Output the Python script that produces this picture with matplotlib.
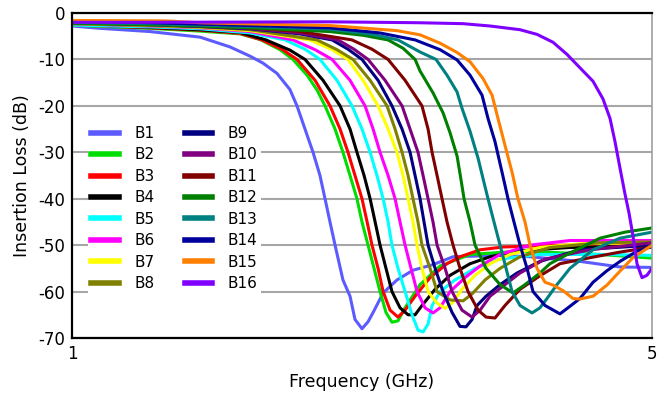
import matplotlib
matplotlib.use("Agg")
import matplotlib.pyplot as plt
from matplotlib.ticker import FixedLocator, NullLocator

# insertion loss curves, frequency in GHz / loss in dB
b1_f = [1.000, 1.081, 1.242, 1.427, 1.550, 1.639, 1.699, 1.766, 1.831, 1.867, 1.909, 1.952, 1.990, 2.018, 2.046,
        2.075, 2.121, 2.163, 2.193, 2.236, 2.274, 2.306, 2.371, 2.464, 2.576, 2.723, 2.879, 3.280, 3.564, 4.094,
        4.575, 5.000]
b1_db = [-2.8, -3.3, -4.0, -5.2, -7.3, -9.3, -10.8, -13, -16.5, -20, -25, -30, -35, -40, -45,
         -50, -57.5, -61, -66, -68, -66.5, -64.5, -60.3, -57.5, -55.4, -54.2, -52.5, -52.2, -52.5, -53.5,
         -54.7, -54.8]

b2_f = [1.000, 1.242, 1.427, 1.594, 1.685, 1.781, 1.846, 1.920, 1.974, 2.018, 2.075, 2.121, 2.163, 2.205, 2.236,
        2.274, 2.312, 2.351, 2.390, 2.430, 2.471, 2.520, 2.627, 2.777, 3.018, 3.467, 4.328, 5.000]
b2_db = [-2.6, -3.3, -3.9, -4.5, -5.7, -7.9, -10, -13.4, -16.6, -20, -25, -30, -35, -40, -45,
         -50, -55, -60, -64.5, -66.6, -66.3, -63.5, -58.5, -54.5, -52, -51.3, -52, -52.8]

b3_f = [1.000, 1.242, 1.427, 1.594, 1.694, 1.791, 1.867, 1.963, 2.046, 2.104, 2.151, 2.193, 2.236, 2.268, 2.299,
        2.338, 2.371, 2.417, 2.471, 2.520, 2.591, 2.701, 2.831, 2.935, 3.103, 3.307, 3.873, 5.000]
b3_db = [-2.5, -3.2, -3.7, -4.4, -5.8, -7.8, -10, -14.5, -20, -25, -30, -35, -40, -45, -50,
         -55, -60, -64, -65.5, -64, -61, -57, -54, -52.5, -51, -50.4, -50, -50]

b4_f = [1.000, 1.242, 1.427, 1.594, 1.713, 1.831, 1.909, 2.007, 2.104, 2.163, 2.205, 2.249, 2.287, 2.319, 2.351,
        2.390, 2.430, 2.485, 2.541, 2.591, 2.641, 2.739, 2.855, 3.018, 3.190, 3.467, 3.982, 5.000]
b4_db = [-2.4, -3.1, -3.6, -4.2, -5.8, -8.0, -10, -14.5, -20, -25, -30, -35, -40, -45, -50,
         -55, -60, -63.5, -65, -65, -63, -59.5, -56.5, -54, -52.5, -51.2, -50.5, -50.2]

b5_f = [1.000, 1.242, 1.427, 1.639, 1.806, 1.909, 1.990, 2.086, 2.175, 2.236, 2.287, 2.331, 2.371, 2.404, 2.430,
        2.471, 2.520, 2.569, 2.612, 2.649, 2.686, 2.716, 2.777, 2.895, 3.060, 3.280, 3.664, 4.328, 5.000]
b5_db = [-2.6, -3.0, -3.4, -4.3, -5.8, -7.8, -10, -14.5, -20, -25, -30, -35, -40, -45, -50,
         -55, -60, -65, -68.3, -68.7, -67, -63, -60, -57.5, -55, -53, -52, -52, -52.2]

b6_f = [1.000, 1.242, 1.427, 1.639, 1.846, 1.963, 2.058, 2.163, 2.255, 2.306, 2.351, 2.404, 2.451, 2.485, 2.520,
        2.562, 2.605, 2.664, 2.723, 2.777, 2.855, 2.976, 3.103, 3.280, 3.564, 3.982, 5.000]
b6_db = [-2.3, -2.8, -3.2, -4.0, -5.8, -7.9, -10, -14.5, -20, -25, -30, -35, -40, -45, -50,
         -55, -60, -63.5, -64.6, -63.5, -60, -57, -54.5, -52, -50, -49, -49]

b7_f = [1.000, 1.242, 1.427, 1.639, 1.936, 2.058, 2.151, 2.243, 2.338, 2.404, 2.464, 2.506, 2.541, 2.576, 2.605,
        2.641, 2.686, 2.754, 2.816, 2.871, 2.951, 3.060, 3.190, 3.372, 3.664, 4.094, 5.000]
b7_db = [-2.2, -2.7, -3.1, -3.8, -5.8, -7.9, -10, -14.5, -20, -25, -30, -35, -40, -45, -50,
         -55, -60, -62.5, -63.6, -62.5, -59.5, -56.5, -54, -52, -50.5, -49.7, -49.5]

b8_f = [1.000, 1.242, 1.427, 1.639, 1.974, 2.086, 2.181, 2.287, 2.397, 2.451, 2.499, 2.541, 2.576, 2.612, 2.641,
        2.701, 2.754, 2.855, 2.960, 3.035, 3.146, 3.280, 3.467, 3.767, 4.328, 5.000]
b8_db = [-2.3, -2.7, -3.0, -3.6, -5.8, -7.9, -10, -14.5, -20, -25, -30, -35, -40, -45, -50,
         -55, -60, -61.8, -62, -60.5, -57.5, -55, -52.5, -50.5, -49.5, -49.3]

b9_f = [1.000, 1.242, 1.427, 1.639, 1.883, 2.058, 2.151, 2.236, 2.338, 2.430, 2.499, 2.555, 2.591, 2.627, 2.656,
        2.686, 2.739, 2.800, 2.871, 2.935, 2.984, 3.035, 3.077, 3.155, 3.280, 3.438, 3.664, 4.094, 5.000]
b9_db = [-2.1, -2.5, -2.9, -3.4, -4.5, -5.8, -7.8, -10, -14.5, -20, -25, -30, -35, -40, -45,
         -50, -55, -60, -64.5, -67.5, -67.6, -66, -63, -61, -58.5, -56, -53.5, -51, -50]

b10_f = [1.000, 1.242, 1.427, 1.639, 1.883, 2.092, 2.187, 2.274, 2.384, 2.499, 2.555, 2.612, 2.649, 2.686, 2.723,
         2.754, 2.816, 2.871, 2.951, 3.035, 3.103, 3.190, 3.325, 3.467, 3.716, 4.210, 5.000]
b10_db = [-2.0, -2.4, -2.8, -3.3, -4.3, -5.8, -7.8, -10, -14.5, -20, -25, -30, -35, -40, -45,
          -50, -55, -60, -64, -65.5, -64, -61, -58.5, -56, -53, -51, -49.5]

b11_f = [1.000, 1.242, 1.427, 1.639, 1.883, 2.175, 2.299, 2.404, 2.520, 2.641, 2.686, 2.716, 2.754, 2.792, 2.831,
         2.879, 2.935, 3.001, 3.086, 3.155, 3.234, 3.325, 3.467, 3.664, 3.873, 4.210, 4.575, 5.000]
b11_db = [-2.0, -2.4, -2.7, -3.2, -4.0, -5.8, -7.8, -10, -14.5, -20, -25, -30, -35, -40, -45,
          -50, -55, -60, -64, -65.5, -65.7, -63, -59.5, -56.6, -54, -52.7, -51.5, -50.4]

b12_f = [1.000, 1.242, 1.427, 1.639, 2.046, 2.243, 2.404, 2.506, 2.591, 2.627, 2.723, 2.800, 2.855, 2.911, 2.943,
         2.968, 3.018, 3.060, 3.155, 3.280, 3.400, 3.515, 3.664, 3.767, 3.982, 4.328, 4.639, 5.000]
b12_db = [-2.2, -2.5, -2.8, -3.2, -4.0, -4.8, -5.8, -7.6, -10, -12.5, -17.2, -21.5, -25.8, -30.8, -35.9,
          -40, -45, -50, -55, -58.5, -60.3, -58.5, -56, -54, -51.7, -48.5, -47.2, -46.3]

b13_f = [1.000, 1.242, 1.427, 1.639, 2.046, 2.287, 2.471, 2.627, 2.746, 2.831, 2.911, 2.951, 3.018, 3.086, 3.128,
         3.172, 3.225, 3.280, 3.335, 3.391, 3.467, 3.584, 3.664, 3.736, 3.841, 3.982, 4.245, 4.575, 5.000]
b13_db = [-2.0, -2.3, -2.6, -2.9, -3.5, -4.5, -5.8, -8.4, -10, -13.4, -17, -20.5, -25.5, -31.3, -35.6,
          -40, -45, -50, -55, -60, -63, -64.6, -63.5, -61.5, -58.5, -55, -51, -48.5, -47.2]

b14_f = [1.000, 1.242, 1.427, 1.639, 2.046, 2.351, 2.591, 2.777, 2.911, 3.018, 3.120, 3.172, 3.234, 3.298, 3.353,
         3.409, 3.467, 3.535, 3.594, 3.716, 3.873, 3.960, 4.094, 4.245, 4.413, 4.575, 4.796, 5.000]
b14_db = [-1.8, -2.1, -2.4, -2.7, -3.2, -4.3, -5.8, -7.9, -10.1, -13.4, -17.7, -22.7, -27.7, -34.3, -40,
          -45, -50, -55, -60, -63, -64.8, -63.5, -61.5, -58, -55.5, -53.5, -51.3, -50.3]

b15_f = [1.000, 1.294, 1.427, 1.685, 2.046, 2.464, 2.627, 2.777, 2.911, 3.018, 3.128, 3.208, 3.261, 3.325, 3.391,
         3.447, 3.515, 3.564, 3.634, 3.716, 3.799, 3.906, 4.016, 4.094, 4.245, 4.413, 4.575, 4.743, 5.000]
b15_db = [-1.6, -1.7, -2.1, -2.4, -2.7, -3.8, -4.7, -6.5, -8.5, -10.5, -14.1, -17.7, -22.7, -28.5, -34.3,
          -40, -45, -50, -55, -58, -58.6, -59.8, -61.5, -61.6, -61, -58.6, -55.6, -52.7, -50]

b16_f = [1.000, 1.242, 2.046, 2.627, 2.960, 3.190, 3.467, 3.634, 3.799, 3.949, 4.094, 4.245, 4.364, 4.450, 4.512,
         4.575, 4.639, 4.690, 4.743, 4.796, 4.863, 4.930, 5.000]
b16_db = [-2.0, -2.0, -1.9, -2.1, -2.3, -2.8, -3.6, -4.6, -6.3, -8.9, -11.8, -14.7, -18.5, -22.7, -27.7,
          -33.4, -39, -43, -48, -54, -57, -56.5, -55]

labels = ['B%d' % i for i in range(1, 17)]
freqs = [b1_f, b2_f, b3_f, b4_f, b5_f, b6_f, b7_f, b8_f, b9_f, b10_f, b11_f, b12_f, b13_f, b14_f, b15_f, b16_f]
losses = [b1_db, b2_db, b3_db, b4_db, b5_db, b6_db, b7_db, b8_db, b9_db, b10_db, b11_db, b12_db, b13_db, b14_db,
          b15_db, b16_db]
colors = ['#5b5bff', '#00dd00', '#ff0000', '#000000', '#00ffff', '#ff00ff', '#ffff00', '#808000',
          '#000080', '#800080', '#800000', '#008000', '#008080', '#00009c', '#ff8000', '#8000ff']

y_ticks = [0, -10, -20, -30, -40, -50, -60, -70]

fig = plt.figure(figsize=(6.65, 3.97), dpi=100)
ax = fig.add_axes([72 / 665, 1 - 338 / 397, 580 / 665, 325 / 397])

for f, db, c, lab in zip(freqs, losses, colors, labels):
    ax.plot(f, db, color=c, lw=2.2, label=lab, solid_joinstyle='round')

ax.set_xscale('log')
ax.set_xlim(1, 5)
ax.set_ylim(-70, 0)
ax.xaxis.set_major_locator(FixedLocator([1, 5]))
ax.xaxis.set_minor_locator(NullLocator())
ax.set_xticklabels(['1', '5'])
ax.set_yticks(y_ticks)
ax.set_yticklabels([str(t) for t in y_ticks])
ax.tick_params(length=0, labelsize=12, pad=5)
ax.yaxis.grid(True, color='#a6a6a6', lw=1.5)
ax.set_axisbelow(True)

for s in ['left', 'bottom', 'top']:
    ax.spines[s].set_color('black')
    ax.spines[s].set_linewidth(1.6)
ax.spines['right'].set_color('#a0a0a0')
ax.spines['right'].set_linewidth(1.2)

ax.set_xlabel('Frequency (GHz)', fontsize=12.5, labelpad=7)
ax.set_ylabel('Insertion Loss (dB)', fontsize=12.5, labelpad=5)

leg = ax.legend(ncol=2, loc='upper left', bbox_to_anchor=(0.015, 0.685), fontsize=11,
                frameon=True, facecolor='white', edgecolor='none', framealpha=1,
                handlelength=1.8, handletextpad=1.0, columnspacing=2.0, labelspacing=0.42,
                borderpad=0.2, fancybox=False)
for h in leg.get_lines():
    h.set_linewidth(4)

fig.savefig('out.png', dpi=100)
